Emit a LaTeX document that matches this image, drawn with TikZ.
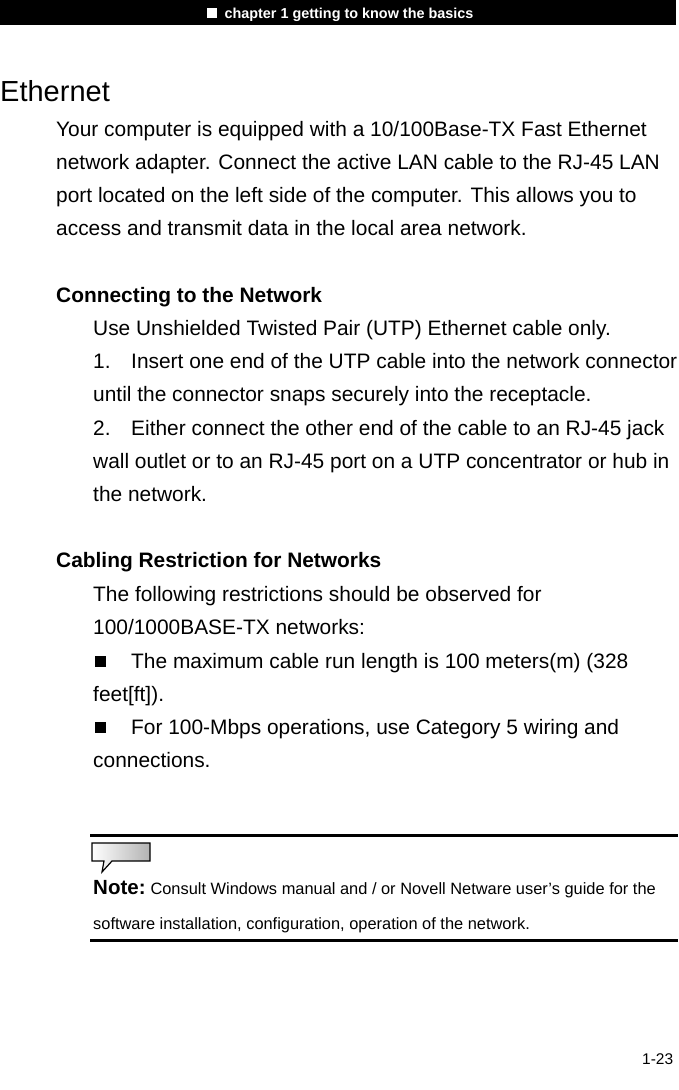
\documentclass[tikz,border=0pt]{standalone}
\usepackage{fontspec}
\setmainfont{Liberation Sans}
\begin{document}
\begin{tikzpicture}[x=1pt,y=-1pt,
  t/.style={anchor=base west,inner sep=0pt,font=\fontsize{20.9}{20.9}\selectfont},
  b/.style={t,font=\fontsize{20.9}{20.9}\selectfont\bfseries}]
\useasboundingbox (0,0) rectangle (678,1090);
\fill[black] (0,0) rectangle (676,25);
\node[anchor=base,inner sep=0pt,text=white,font=\fontsize{14.4}{14.4}\selectfont\bfseries] (hdr) at (340,18) {\rule{10pt}{10pt}\ \ chapter 1 getting to know the basics};
\node[t,font=\fontsize{29}{29}\selectfont] (eth) at (0,101) {Ethernet};
\node[t] (l1) at (56,136) {Your computer is equipped with a 10/100Base-TX Fast Ethernet};
\node[t] (l2) at (56,169) {network adapter. Connect the active LAN cable to the RJ-45 LAN};
\node[t] (l3) at (56,202) {port located on the left side of the computer. This allows you to};
\node[t] (l4) at (56,235) {access and transmit data in the local area network.};
\node[b] (h1) at (56,302) {Connecting to the Network};
\node[t] (c1) at (93,335) {Use Unshielded Twisted Pair (UTP) Ethernet cable only.};
\node[t] (c2n) at (93,368) {1.};
\node[t] (c2) at (131,368) {Insert one end of the UTP cable into the network connector};
\node[t] (c3) at (93,401) {until the connector snaps securely into the receptacle.};
\node[t] (c4n) at (93,435) {2.};
\node[t] (c4) at (131,435) {Either connect the other end of the cable to an RJ-45 jack};
\node[t] (c5) at (93,468) {wall outlet or to an RJ-45 port on a UTP concentrator or hub in};
\node[t] (c6) at (93,501) {the network.};
\node[b] (h2) at (56,567) {Cabling Restriction for Networks};
\node[t] (r1) at (93,601) {The following restrictions should be observed for};
\node[t] (r2) at (93,634) {100/1000BASE-TX networks:};
\node[t] (r3n) at (95,667) {\rule{11pt}{11pt}};
\node[t] (r3) at (131,668) {The maximum cable run length is 100 meters(m) (328};
\node[t] (r4) at (93,701) {feet[ft]).};
\node[t] (r5n) at (95,733) {\rule{11pt}{11pt}};
\node[t] (r5) at (131,734) {For 100-Mbps operations, use Category 5 wiring and};
\node[t] (r6) at (93,767) {connections.};
\draw[line width=3pt] (90,835) -- (678,835);
\shade[left color=white,right color=gray!60,draw=black,line width=1.2pt]
  (92,843) -- (150,843) -- (150,861) -- (112,861) -- (102,872) -- (104,861) -- (92,861) -- cycle;
\node[t,font=\fontsize{20.5}{20.5}\selectfont\bfseries] (note) at (93,894) {Note:};
\node[t,font=\fontsize{16.4}{16.4}\selectfont,anchor=base west] (n1) at (note.base east) {\ Consult Windows manual and / or Novell Netware user’s guide for the};
\node[t,font=\fontsize{16.4}{16.4}\selectfont] (n2) at (93,929) {software installation, configuration, operation of the network.};
\draw[line width=3pt] (90,940) -- (678,940);
\node[t,font=\fontsize{15.5}{15.5}\selectfont] (pg) at (642,1064) {1-23};
\end{tikzpicture}
\end{document}
